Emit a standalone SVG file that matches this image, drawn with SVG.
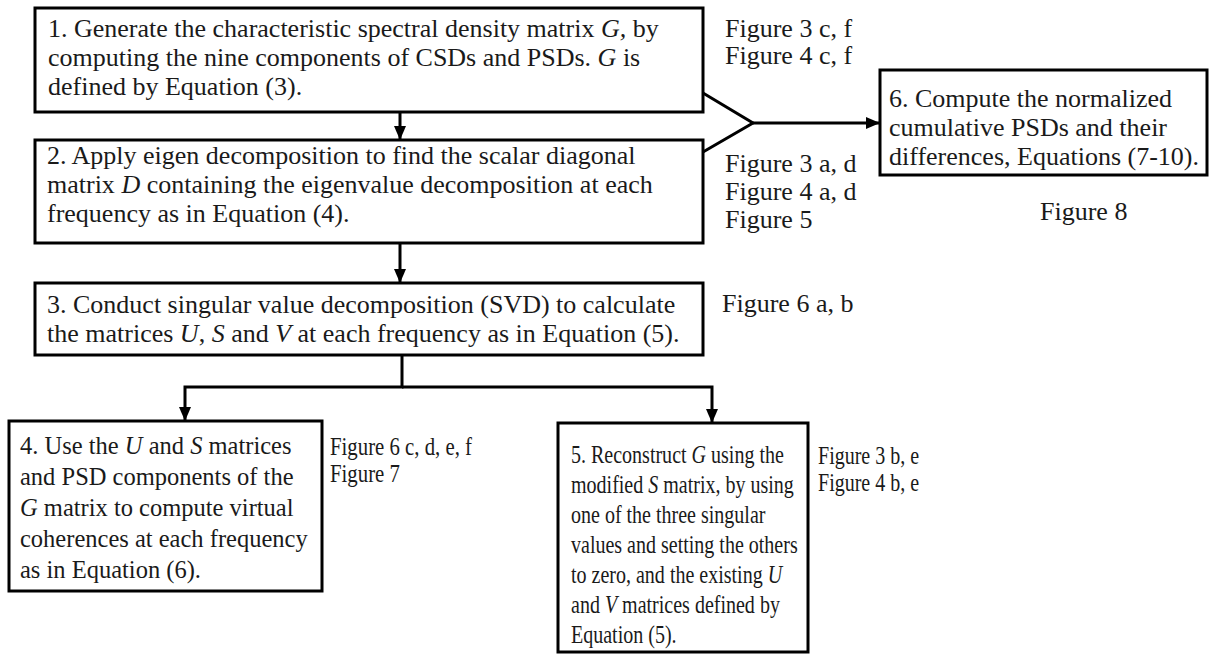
<svg xmlns="http://www.w3.org/2000/svg" width="1215" height="657" viewBox="0 0 1215 657">
<defs>
<style>
.box{fill:#fff;stroke:#000;stroke-width:3}
.t{font-family:"Liberation Serif","Times New Roman",serif;font-size:26px;fill:#1a1a1a}
.t4{font-family:"Liberation Serif","Times New Roman",serif;font-size:24.5px;fill:#1a1a1a}
.lbl{font-family:"Liberation Serif","Times New Roman",serif;font-size:26px;fill:#1a1a1a}
.i{font-style:italic}
.c{fill:none;stroke:#000;stroke-width:3}
</style>
<marker id="ah" viewBox="0 0 14 12" refX="14" refY="6" markerWidth="14" markerHeight="12" markerUnits="userSpaceOnUse" orient="auto">
<path d="M0,0 L14,6 L0,12 z" fill="#000"/>
</marker>
</defs>
<rect width="1215" height="657" fill="#fff"/>

<g id="connectors">
<line class="c" x1="400" y1="112" x2="400" y2="140" marker-end="url(#ah)"/>
<line class="c" x1="400" y1="243" x2="400" y2="283" marker-end="url(#ah)"/>
<polyline class="c" points="703,93 753,123 703,152"/>
<line class="c" x1="753" y1="123" x2="880" y2="123" marker-end="url(#ah)"/>
<polyline class="c" points="402,355 402,387 185,387 185,421" marker-end="url(#ah)"/>
<polyline class="c" points="402,387 712,387 712,423" marker-end="url(#ah)"/>
</g>

<g id="node1">
<rect class="box" x="35" y="8" width="668" height="104"/>
<text class="t" x="48" y="37">1. Generate the characteristic spectral density matrix <tspan class="i">G,</tspan> by</text>
<text class="t" x="48" y="66">computing the nine components of CSDs and PSDs. <tspan class="i">G</tspan> is</text>
<text class="t" x="48" y="95">defined by Equation (3).</text>
</g>

<g id="node2">
<rect class="box" x="35" y="140" width="668" height="103"/>
<text class="t" x="47" y="164">2. Apply eigen decomposition to find the scalar diagonal</text>
<text class="t" x="47" y="193">matrix <tspan class="i">D</tspan> containing the eigenvalue decomposition at each</text>
<text class="t" x="47" y="222">frequency as in Equation (4).</text>
</g>

<g id="node3">
<rect class="box" x="35" y="283" width="668" height="72"/>
<text class="t" x="47" y="313">3. Conduct singular value decomposition (SVD) to calculate</text>
<text class="t" x="47" y="342">the matrices <tspan class="i">U</tspan>, <tspan class="i">S</tspan> and <tspan class="i">V</tspan> at each frequency as in Equation (5).</text>
</g>

<g id="node4">
<rect class="box" x="9" y="421" width="313" height="170"/>
<text class="t4" x="20" y="454">4. Use the <tspan class="i">U</tspan> and <tspan class="i">S</tspan> matrices</text>
<text class="t4" x="20" y="485">and PSD components of the</text>
<text class="t4" x="20" y="516"><tspan class="i">G</tspan> matrix to compute virtual</text>
<text class="t4" x="20" y="547">coherences at each frequency</text>
<text class="t4" x="20" y="578">as in Equation (6).</text>
</g>

<g id="node5">
<rect class="box" x="558" y="423" width="250" height="229"/>
<g transform="translate(571,0) scale(0.77,1)">
<text class="t" x="0" y="463">5. Reconstruct <tspan class="i">G</tspan> using the</text>
<text class="t" x="0" y="493">modified <tspan class="i">S</tspan> matrix, by using</text>
<text class="t" x="0" y="523">one of the three singular</text>
<text class="t" x="0" y="553">values and setting the others</text>
<text class="t" x="0" y="583">to zero, and the existing <tspan class="i">U</tspan></text>
<text class="t" x="0" y="613">and <tspan class="i">V</tspan> matrices defined by</text>
<text class="t" x="0" y="643">Equation (5).</text>
</g>
</g>

<g id="node6">
<rect class="box" x="880" y="70" width="327" height="105"/>
<text class="t" x="889" y="107">6. Compute the normalized</text>
<text class="t" x="889" y="136">cumulative PSDs and their</text>
<text class="t" x="889" y="165">differences, Equations (7-10).</text>
</g>

<g id="labels">
<text class="lbl" x="725" y="37">Figure 3 c, f</text>
<text class="lbl" x="725" y="64">Figure 4 c, f</text>
<text class="lbl" x="725" y="172">Figure 3 a, d</text>
<text class="lbl" x="725" y="200">Figure 4 a, d</text>
<text class="lbl" x="725" y="228">Figure 5</text>
<text class="lbl" x="722" y="312">Figure 6 a, b</text>
<text class="lbl" x="1040" y="220">Figure 8</text>
<g transform="translate(330,0) scale(0.8,1)">
<text class="t" x="0" y="455">Figure 6 c, d, e, f</text>
<text class="t" x="0" y="482">Figure 7</text>
</g>
<g transform="translate(818,0) scale(0.77,1)">
<text class="t" x="0" y="464">Figure 3 b, e</text>
<text class="t" x="0" y="491">Figure 4 b, e</text>
</g>
</g>
</svg>
